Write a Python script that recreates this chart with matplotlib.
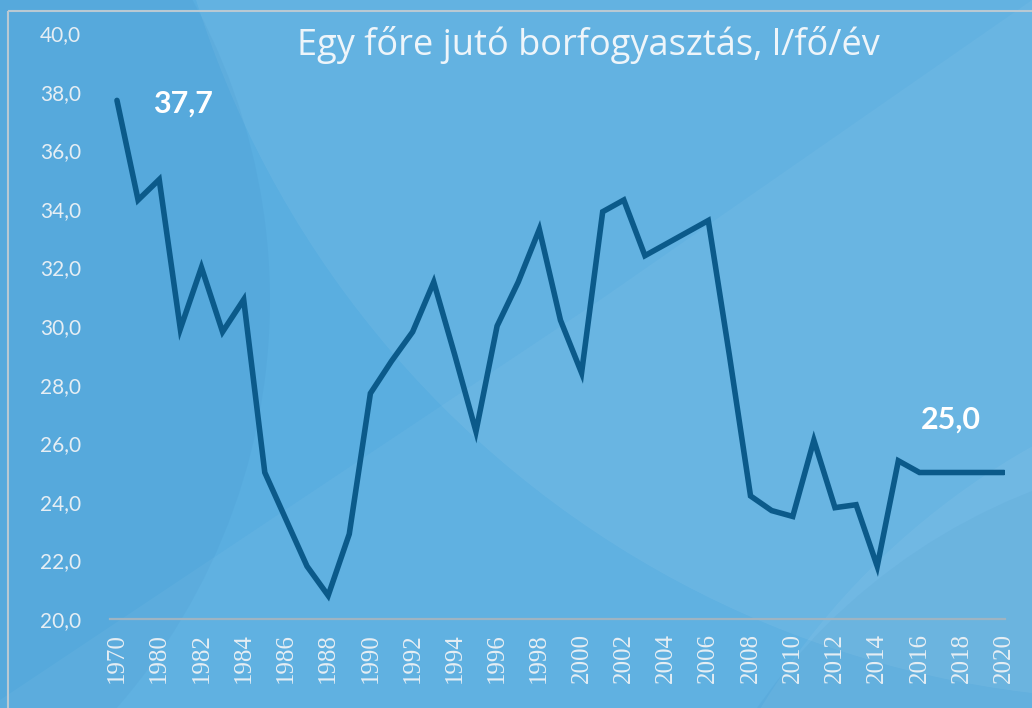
import matplotlib
matplotlib.use("Agg")
import matplotlib.pyplot as plt
from matplotlib.patches import Circle, Rectangle, Polygon

# data (hidden second category sits between 1970 and 1980)
years = ["1970", "1975"] + [str(y) for y in range(1980, 2021)]
consumption = [37.7, 34.3, 35.0, 29.9, 32.0, 29.8, 30.9, 25.0, 23.4, 21.8,
               20.8, 22.9, 27.7, 28.8, 29.8, 31.5, 29.0, 26.4, 30.0, 31.5,
               33.3, 30.2, 28.4, 33.9, 34.3, 32.4, 32.8, 33.2, 33.6, 29.0,
               24.2, 23.7, 23.5, 26.1, 23.8, 23.9, 21.8, 25.4, 25.0, 25.0,
               25.0, 25.0, 25.0]
first_label = "37,7"
last_label = "25,0"
title = "Egy főre jutó borfogyasztás, l/fő/év"

plt.rcParams['font.family'] = ['Lato', 'DejaVu Sans']

fig = plt.figure(figsize=(10.32, 7.08), dpi=100)
fig.patch.set_facecolor("#5aaee0")

# background decoration in figure coordinates
bg = fig.add_axes([0, 0, 1, 1], zorder=-10)
bg.set_xlim(0, 1032)
bg.set_ylim(708, 0)
bg.axis("off")
bg.add_patch(Circle((1150, -300), 1000, color="white", alpha=0.06, lw=0))
bg.add_patch(Circle((-350, 300), 620, color="#2a78b8", alpha=0.08, lw=0))
bg.add_patch(Polygon([[0, 700], [600, 300], [1032, 0], [1032, 708], [0, 708]],
                     color="white", alpha=0.04, lw=0))
bg.add_patch(Circle((1250, 1050), 600, color="#2a78b8", alpha=0.08, lw=0))
bg.add_patch(Circle((1400, 1100), 750, color="white", alpha=0.05, lw=0))
bg.add_patch(Rectangle((8, 11), 1100, 800, fill=False, ec="#b9c9d3", lw=1.5))

ax = fig.add_axes([110 / 1032, 1 - 619 / 708, 895 / 1032, 586 / 708])
ax.patch.set_alpha(0)

x = list(range(len(years)))
ax.plot(x, consumption, color="#0b5a8a", lw=4, solid_joinstyle="miter",
        solid_capstyle="round")

ax.set_xlim(-0.33, 42.05)
ax.set_ylim(20, 40)
ax.set_yticks([20, 22, 24, 26, 28, 30, 32, 34, 36, 38, 40])
ax.set_yticklabels([f"{v:.1f}".replace(".", ",") for v in ax.get_yticks()])
ax.set_xticks(x[::2])
ax.set_xticklabels(years[::2], rotation=90)
for lbl in ax.get_xticklabels():
    lbl.set_fontfamily(["Liberation Serif", "DejaVu Serif"])

for s in ["top", "right", "left"]:
    ax.spines[s].set_visible(False)
ax.spines["bottom"].set_color("#9fb4c2")
ax.spines["bottom"].set_linewidth(1.6)

ax.tick_params(axis="y", length=0, pad=21, labelsize=15, labelcolor="#e6eef4")
ax.tick_params(axis="x", length=0, pad=10, labelsize=18, labelcolor="#e6eef4")

ax.text(1.7, 37.6, first_label, color="white", fontsize=22, fontweight="bold",
        va="center", ha="left")
ax.text(39.5, 26.8, last_label, color="white", fontsize=22, fontweight="bold",
        va="center", ha="center")

fig.text(588 / 1032, 1 - 45 / 708, title, color="#eef5fa", fontsize=26,
         ha="center", va="center", family=["Open Sans", "DejaVu Sans"])

fig.savefig("out.png", dpi=100, facecolor=fig.get_facecolor())
